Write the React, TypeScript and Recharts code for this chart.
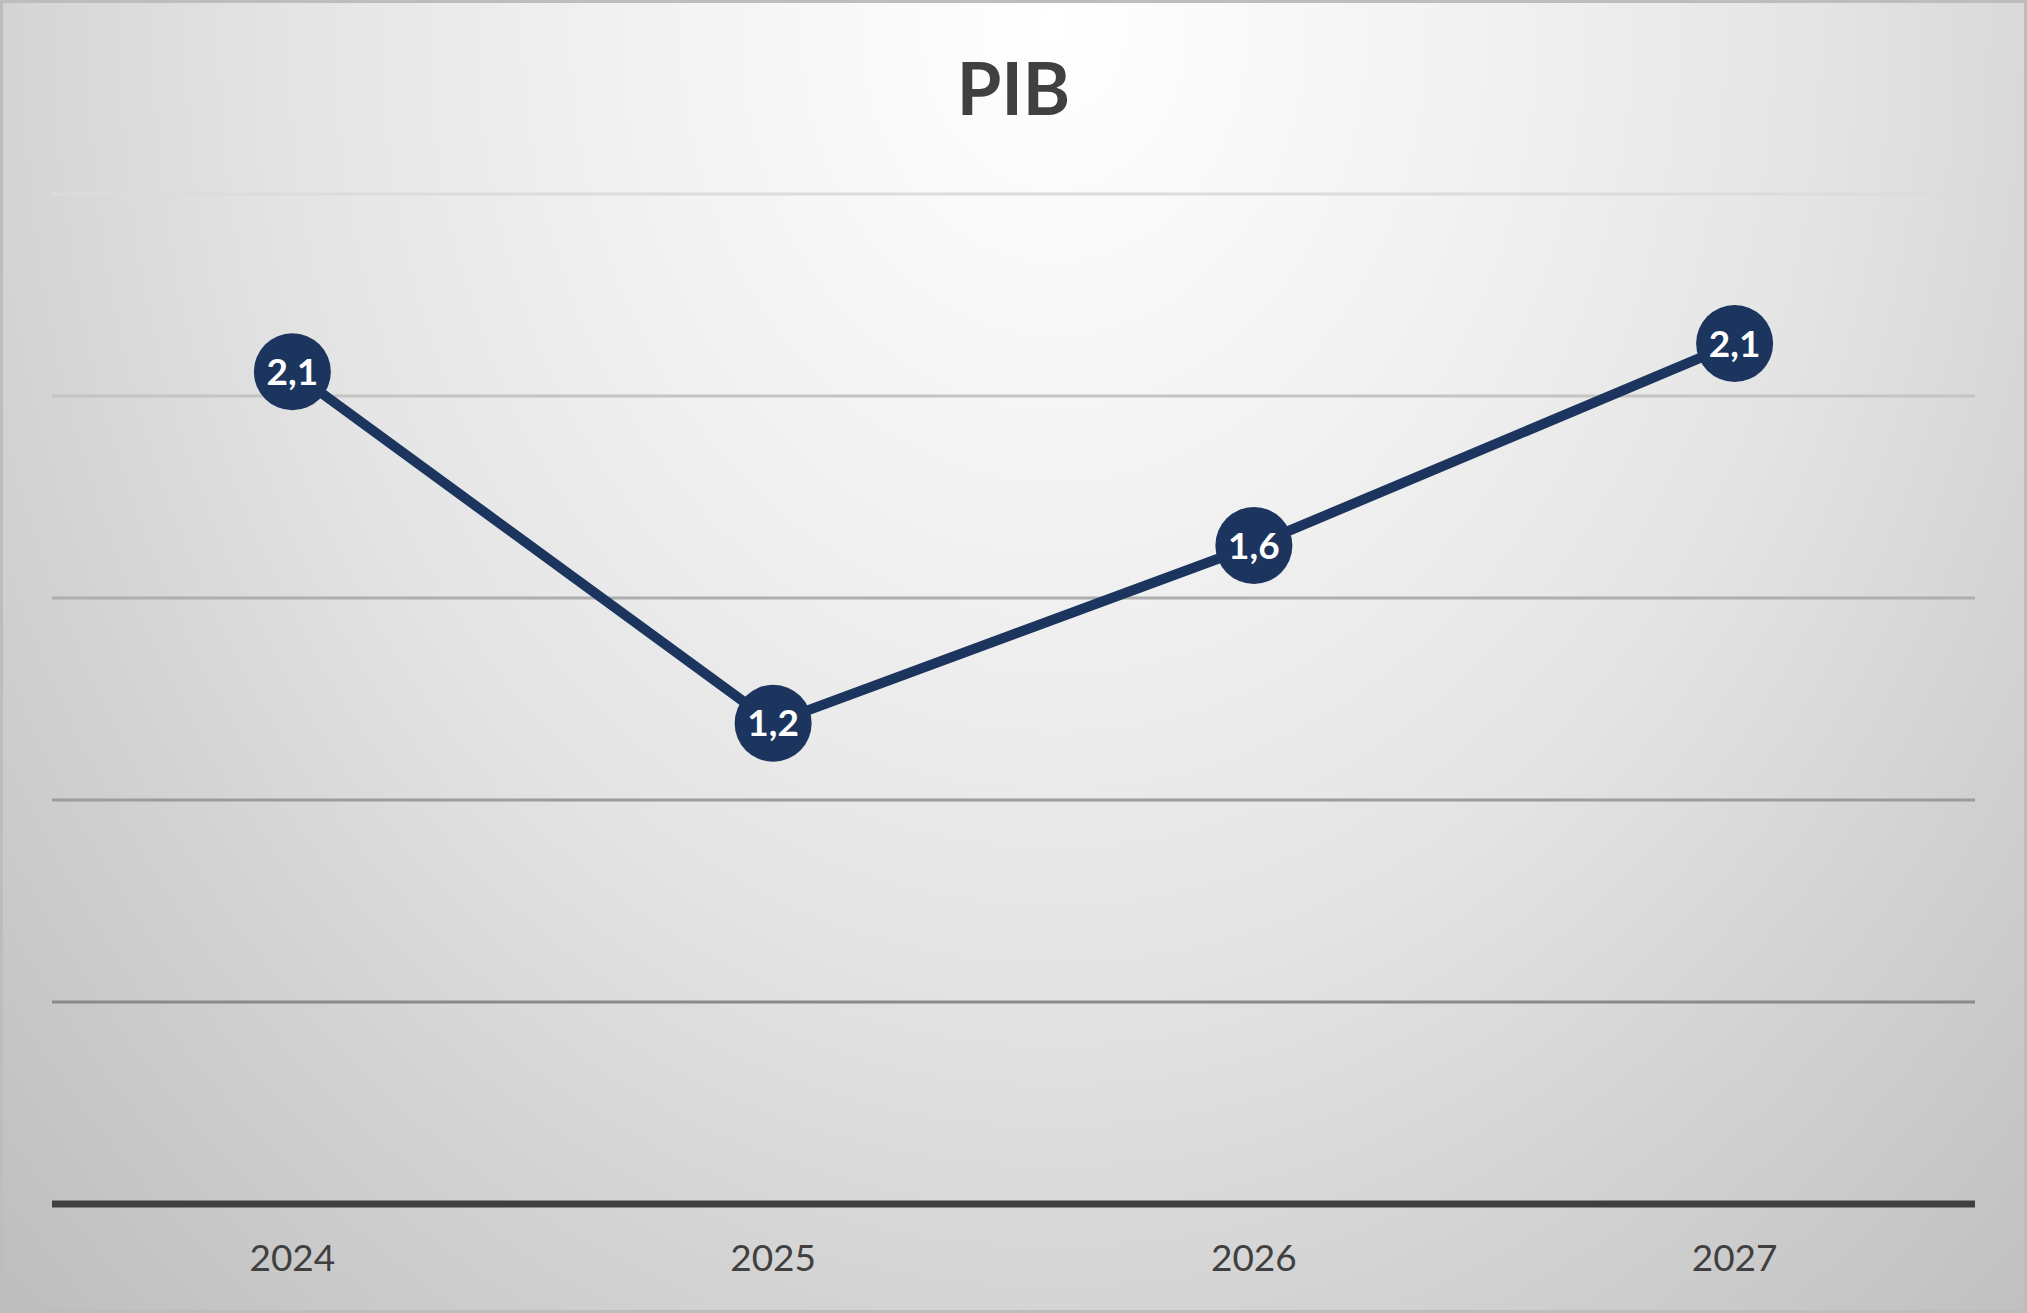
import React from 'react';
import { LineChart, Line, XAxis, YAxis, ReferenceLine, LabelList } from 'recharts';

// PIB por ano
const years = ['2024', '2025', '2026', '2027'];
const pib = [2.06, 1.19, 1.63, 2.13];
const yTicks = [0, 0.5, 1, 1.5, 2, 2.5];

// gridlines go from light (top) to dark (bottom)
const gridColors: Record<number, string> = {
  2.5: '#dcdcdc',
  2: '#c4c4c4',
  1.5: '#aeaeae',
  1: '#9c9c9c',
  0.5: '#8a8a8a',
};

const NAVY = '#1c355e';
const TEXT = '#404040';
const FONT = 'Lato, "Open Sans", sans-serif';

const data = years.map((year, i) => ({ year, pib: pib[i] }));

const formatPib = (v: number) => Number(v).toFixed(1).replace('.', ',');

export default function App() {
  return (
    <div
      style={{
        position: 'absolute',
        left: 0,
        top: 0,
        width: 2027,
        height: 1313,
        fontFamily: FONT,
        background:
          'radial-gradient(ellipse farthest-corner at 52% 2%, #ffffff 0%, #f1f1f1 30%, #e4e4e4 52%, #d3d3d3 72%, #bdbdbd 100%)',
        boxShadow: 'inset 0 0 0 3px #bdbdbd',
      }}
    >
      <div
        style={{
          position: 'absolute',
          top: 51,
          left: 0,
          width: 2027,
          textAlign: 'center',
          fontSize: 72,
          lineHeight: 1,
          fontWeight: 700,
          color: TEXT,
        }}
      >
        PIB
      </div>
      <LineChart
        width={2027}
        height={1313}
        data={data}
        margin={{ top: 194, right: 52, bottom: 0, left: 52 }}
        style={{ position: 'absolute', left: 0, top: 0 }}
      >
        {yTicks
          .filter((t) => t > 0)
          .map((t) => (
            <ReferenceLine key={t} y={t} stroke={gridColors[t]} strokeWidth={3} />
          ))}
        <XAxis
          dataKey="year"
          scale="band"
          interval={0}
          height={109}
          tickLine={false}
          axisLine={{ stroke: TEXT, strokeWidth: 7 }}
          tickMargin={35}
          tick={{ fill: TEXT, fontSize: 37, fontFamily: FONT }}
        />
        <YAxis hide type="number" domain={[0, 2.5]} ticks={yTicks} />
        <Line
          type="linear"
          dataKey="pib"
          stroke={NAVY}
          strokeWidth={10}
          dot={{ r: 38.5, fill: NAVY, stroke: NAVY, strokeWidth: 0 }}
          activeDot={false}
          isAnimationActive={false}
        >
          <LabelList
            dataKey="pib"
            position="center"
            formatter={formatPib}
            fill="#ffffff"
            fontSize={37}
            fontWeight={700}
            fontFamily={FONT}
          />
        </Line>
      </LineChart>
    </div>
  );
}
